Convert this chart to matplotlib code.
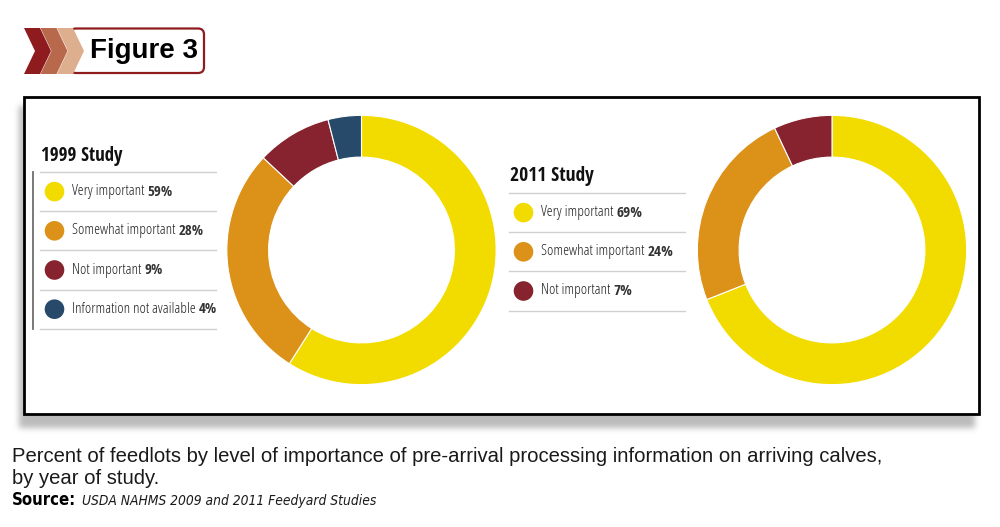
import matplotlib
matplotlib.use("Agg")
import matplotlib.pyplot as plt
from matplotlib.patches import Rectangle, Circle, Polygon, FancyBboxPatch
from matplotlib import font_manager as fm
import numpy as np

# ---- data ----
categories_1999 = ["Very important", "Somewhat important", "Not important", "Information not available"]
values_1999 = [59, 28, 9, 4]
categories_2011 = ["Very important", "Somewhat important", "Not important"]
values_2011 = [69, 24, 7]
colors = ["#F2DC00", "#DC9119", "#86232F", "#274A6A"]

title_1999 = "1999 Study"
title_2011 = "2011 Study"
figure_label = "Figure 3"
caption_lines = ["Percent of feedlots by level of importance of pre-arrival processing information on arriving calves,",
                 "by year of study."]
source_label = "Source:"
source_text = "USDA NAHMS 2009 and 2011 Feedyard Studies"

W, H = 1000, 527
fig = plt.figure(figsize=(W / 100, H / 100), dpi=100)
ax = fig.add_axes([0, 0, 1, 1])
ax.set_xlim(0, W)
ax.set_ylim(H, 0)
ax.axis("off")


def font(fnames, family="DejaVu Sans", **kw):
    for fname in fnames:
        for f in fm.fontManager.ttflist:
            if f.fname.split("/")[-1] == fname:
                return fm.FontProperties(fname=f.fname)
    return fm.FontProperties(family=family, **kw)


F_LIGHT = font(["OpenSans-CondLight.ttf", "DejaVuSansCondensed.ttf"], stretch="condensed")
F_COND_I = font(["DejaVuSansCondensed-Oblique.ttf", "OpenSans-CondLightItalic.ttf"],
                stretch="condensed", style="italic")
F_OS_CB = font(["OpenSans-CondBold.ttf", "DejaVuSansCondensed-Bold.ttf"],
               family="Open Sans Condensed", weight="bold")
F_DCB = font(["DejaVuSansCondensed-Bold.ttf", "OpenSans-CondBold.ttf"],
             stretch="condensed", weight="bold")
F_BOLD = font(["LiberationSans-Bold.ttf"], family="Liberation Sans", weight="bold")
F_REG = font(["LiberationSans-Regular.ttf"], family="Liberation Sans")

renderer = fig.canvas.get_renderer()


def fit(t, target_w):
    bb = t.get_window_extent(renderer)
    if bb.width > 0:
        t.set_fontsize(t.get_fontsize() * target_w / bb.width)
    return t

# ---- Figure 3 header ----
chev_cols = ["#8E1B1E", "#B8694C", "#DDAF8F"]
box = FancyBboxPatch((70, 28.5), 134, 44.5, boxstyle="round,pad=0,rounding_size=6",
                     fc="white", ec="#8E1B1E", lw=1.6, zorder=2)
ax.add_patch(box)
for k in (2, 1, 0):
    x0 = 24 + k * 16.5
    pts = [(x0, 28), (x0 + 16, 28), (x0 + 27, 51), (x0 + 16, 74), (x0, 74), (x0 + 11, 51)]
    ax.add_patch(Polygon(pts, closed=True, fc=chev_cols[k], ec="none", zorder=3))
t = ax.text(90, 51.5, figure_label, fontproperties=F_BOLD,
            ha="left", va="center", color="black", zorder=4)
t.set_fontsize(20)
fit(t, 108)

# ---- shadow (blurred gray rectangle) ----
sx0, sx1, sy0, sy1 = 5, 995, 90, 445
nx, ny = sx1 - sx0, sy1 - sy0
yy, xx = np.mgrid[sy0:sy1, sx0:sx1] + 0.5
mask = ((xx > 19) & (xx < 975) & (yy > 106) & (yy < 428)).astype(float)
k = np.exp(-0.5 * (np.arange(-8, 9) / 3.0) ** 2)
k /= k.sum()
mask = np.apply_along_axis(lambda r: np.convolve(r, k, mode="same"), 1, mask)
mask = np.apply_along_axis(lambda c: np.convolve(c, k, mode="same"), 0, mask)
rgba = np.zeros((ny, nx, 4))
rgba[..., :3] = 0.45
rgba[..., 3] = mask * 0.48
ax.imshow(rgba, extent=(sx0, sx1, sy1, sy0), zorder=1, interpolation="bilinear")
ax.set_xlim(0, W)
ax.set_ylim(H, 0)
ax.set_aspect("auto")

# main box
ax.add_patch(Rectangle((24, 97), 955, 317, fc="white", ec="black", lw=2, zorder=2))

# ---- legends ----
def legend(x0, y_top, title, cats, vals, vline, title_w, first_w, pct_w):
    tt = ax.text(x0 + 1, y_top - 16.5, title, fontproperties=F_OS_CB,
                 ha="left", va="center", color="#111111", zorder=5)
    tt.set_fontsize(14)
    fit(tt, title_w)
    n = len(cats)
    step = 39.2
    for i in range(n + 1):
        y = y_top + i * step
        ax.plot([x0, x0 + 176], [y, y], color="#D0D0D0", lw=1.0, zorder=5)
    if vline:
        ax.plot([x0 - 7, x0 - 7], [y_top, y_top + n * step], color="#6E6E6E", lw=1.3, zorder=5)
    probe = ax.text(0, 0, cats[0], fontproperties=F_LIGHT)
    probe.set_fontsize(10)
    fit(probe, first_w)
    fs = probe.get_fontsize()
    probe.remove()
    pfs = None
    for i, (c, v) in enumerate(zip(cats, vals)):
        yc = y_top + (i + 0.5) * step
        ax.add_patch(Circle((x0 + 14.5, yc), 9.8, fc=colors[i], ec="none", zorder=6))
        t = ax.text(x0 + 32, yc, c + " ", fontproperties=F_LIGHT, ha="left", va="center",
                    color="#222222", zorder=6)
        t.set_fontsize(fs)
        p = ax.annotate(f"{v}%", xycoords=t, xy=(1, 0.5), va="center", ha="left",
                        fontproperties=F_OS_CB, color="#333333", zorder=6)
        p.set_fontsize(11)
        if pfs is None:
            fit(p, pct_w)
            pfs = p.get_fontsize()
        else:
            p.set_fontsize(pfs)

legend(40, 172, title_1999, categories_1999, values_1999, True, 82, 72, 25)
legend(509, 193, title_2011, categories_2011, values_2011, False, 84, 72, 26)

# ---- donuts ----
def donut(cx, cy, R, vals):
    pax = fig.add_axes([(cx - R) / W, (H - cy - R) / H, 2 * R / W, 2 * R / H])
    pax.pie(vals, colors=colors[:len(vals)], startangle=90, counterclock=False,
            radius=1.0, wedgeprops=dict(width=0.31, edgecolor="white", linewidth=0.8))
    pax.set_xlim(-1.01, 1.01)
    pax.set_ylim(-1.01, 1.01)
    pax.set_aspect("equal")
    pax.axis("off")

donut(361.5, 250, 136, values_1999)
donut(832, 250, 136, values_2011)

# ---- caption ----
c1 = ax.text(12, 462, caption_lines[0], fontproperties=F_REG, ha="left", va="baseline", color="#1A1A1A")
c1.set_fontsize(14)
fit(c1, 876)
c2 = ax.text(12, 484, caption_lines[1], fontproperties=F_REG, ha="left", va="baseline", color="#1A1A1A")
c2.set_fontsize(c1.get_fontsize())
s = ax.text(12, 505, source_label, fontproperties=F_DCB, ha="left", va="baseline", color="black")
s.set_fontsize(10)
fit(s, 64)
si = ax.annotate(source_text, xy=(82, 505), xycoords="data", va="baseline", ha="left",
                 fontproperties=F_COND_I, color="#1A1A1A")
si.set_fontsize(10)
fit(si, 295)

fig.savefig("out.png", dpi=100)
